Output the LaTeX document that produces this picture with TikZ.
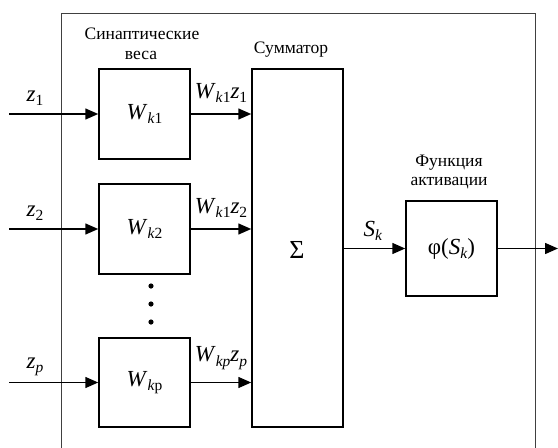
\documentclass[tikz,border=0pt]{standalone}
\usepackage{fontspec}
\setmainfont{Liberation Serif}
\usetikzlibrary{arrows.meta}
\newcommand\lowsub[1]{\raisebox{-0.42ex}{\fontsize{15.5}{16}\selectfont #1}}
\newcommand\mathtxt{\fontsize{23}{25}\selectfont}
\begin{document}
\begin{tikzpicture}[x=1pt,y=-1pt,
  blk/.style={draw,line width=1.5pt,minimum width=91pt,inner sep=0pt},
  lbl/.style={inner sep=0pt,font=\fontsize{17.5}{19}\selectfont},
  mlbl/.style={inner sep=0pt,font=\mathtxt},
  conn/.style={line width=1.5pt,-{Triangle[length=13pt,width=11pt]}}]
\useasboundingbox (0,0) rectangle (558,448);
% outer frame
\draw[line width=1pt,black!75] (61,448) -- (61,13) -- (535,13) -- (535,448);
% blocks
\node[blk,minimum height=90pt] (w1) at (144.5,114) {\mathtxt\textit{W}\lowsub{\textit{k}1}};
\node[blk,minimum height=90pt] (w2) at (144.5,229) {\mathtxt\textit{W}\lowsub{\textit{k}2}};
\node[blk,minimum height=89pt] (wp) at (144.5,382.5) {\mathtxt\textit{W}\lowsub{\textit{k}p}};
\node[blk,minimum height=358pt] (sum) at (297.5,248) {};
\node[inner sep=0pt,font=\fontsize{26}{28}\selectfont] (sig) at (297,250) {Σ};
\node[blk,minimum height=95pt] (act) at (451.5,248.5) {\mathtxt φ(\textit{S}\lowsub{\textit{k}})};
% dots
\foreach \yy/\nm in {286/d1,304/d2,322/d3}
  \fill (151,\yy) circle (2.6pt);
% headings
\node[lbl] (h1) at (142,34) {Синаптические};
\node[lbl] (h2) at (141,55) {веса};
\node[lbl] (h3) at (291,50) {Сумматор};
\node[lbl] (h4) at (449,163) {Функция};
\node[lbl] (h5) at (449,183) {активации};
% inputs
\coordinate (i1) at (9,114);
\coordinate (i2) at (9,229);
\coordinate (ip) at (9,382.5);
\draw[conn] (i1) -- (w1.west);
\draw[conn] (i2) -- (w2.west);
\draw[conn] (ip) -- (wp.west);
\node[mlbl] (z1) at (35,98) {\textit{z}\lowsub{1}};
\node[mlbl] (z2) at (35,213) {\textit{z}\lowsub{2}};
\node[mlbl] (zp) at (35,367) {\textit{z}\lowsub{\textit{p}}};
% outputs of weights
\draw[conn] (w1.east) -- (sum.west |- w1.east);
\draw[conn] (w2.east) -- (sum.west |- w2.east);
\draw[conn] (wp.east) -- (sum.west |- wp.east);
\node[mlbl] (o1) at (221,93) {\textit{W}\lowsub{\textit{k}1}\textit{z}\lowsub{1}};
\node[mlbl] (o2) at (221,208) {\textit{W}\lowsub{\textit{k}1}\textit{z}\lowsub{2}};
\node[mlbl] (op) at (221,358) {\textit{W}\lowsub{\textit{kp}}\textit{z}\lowsub{\textit{p}}};
% summator to activation
\draw[conn] (sum.east |- act.west) -- (act.west);
\node[mlbl] (sk) at (373,231) {\textit{S}\lowsub{\textit{k}}};
\coordinate (out) at (558,248.5);
\draw[conn] (act.east) -- (out);
\end{tikzpicture}
\end{document}
